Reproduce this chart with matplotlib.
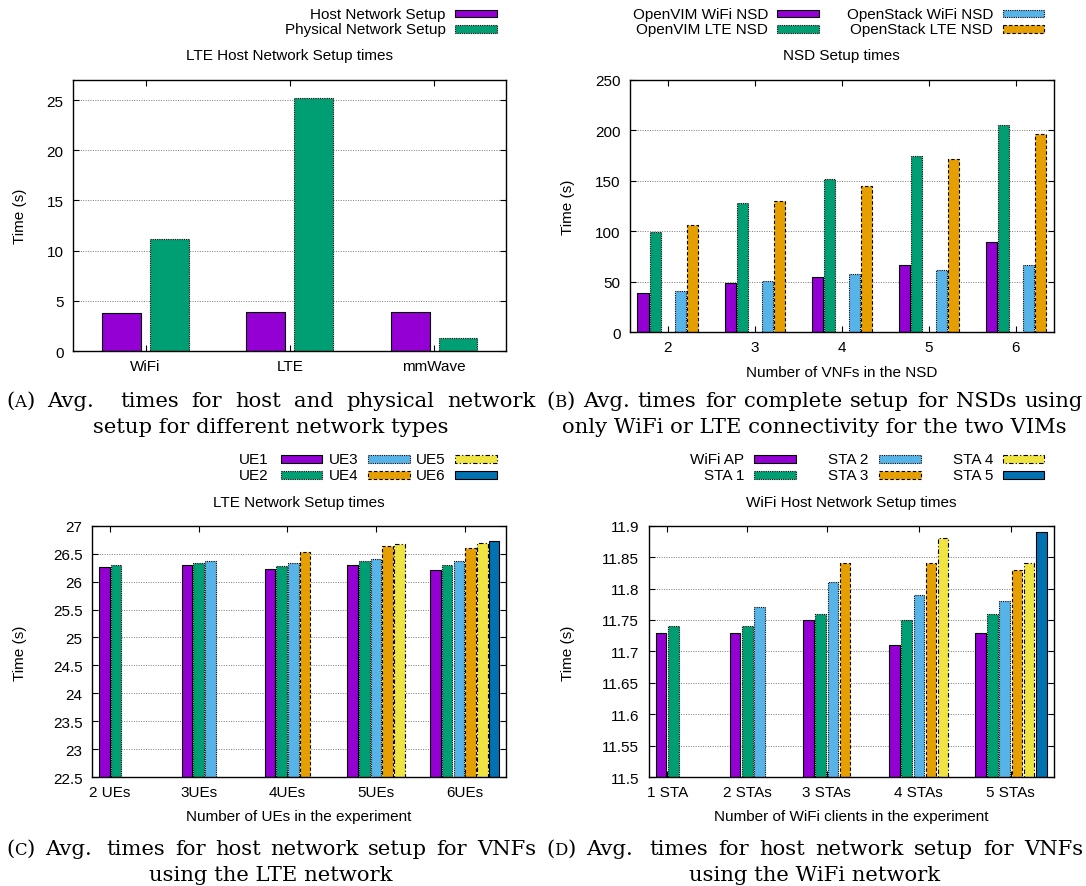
import matplotlib
matplotlib.use("Agg")
import matplotlib.pyplot as plt
from matplotlib.patches import Rectangle
import numpy as np

# ---------------------------------------------------------------- data
net_types = ["WiFi", "LTE", "mmWave"]
host_setup = [3.8, 3.85, 3.85]
phys_setup = [11.2, 25.2, 1.3]

vnf_counts = ["2", "3", "4", "5", "6"]
openvim_wifi = [39, 49, 55, 67, 89]
openvim_lte = [99, 128, 152, 175, 205]
openstack_wifi = [41, 51, 58, 62, 67]
openstack_lte = [106, 130, 145, 172, 196]

ue_groups = ["2 UEs", "3UEs", "4UEs", "5UEs", "6UEs"]
ue1 = [26.26, 26.29, 26.23, 26.29, 26.21]
ue2 = [26.29, 26.34, 26.28, 26.36, 26.30]
ue3 = [None, 26.36, 26.33, 26.41, 26.37]
ue4 = [None, None, 26.52, 26.63, 26.60]
ue5 = [None, None, None, 26.67, 26.68]
ue6 = [None, None, None, None, 26.72]
ue_labels = ["UE1", "UE2", "UE3", "UE4", "UE5", "UE6"]

sta_groups = ["1 STA", "2 STAs", "3 STAs", "4 STAs", "5 STAs"]
wifi_ap = [11.73, 11.73, 11.75, 11.71, 11.73]
sta1 = [11.74, 11.74, 11.76, 11.75, 11.76]
sta2 = [None, 11.77, 11.81, 11.79, 11.78]
sta3 = [None, None, 11.84, 11.84, 11.83]
sta4 = [None, None, None, 11.88, 11.84]
sta5 = [None, None, None, None, 11.89]
sta_labels = ["WiFi AP", "STA 1", "STA 2", "STA 3", "STA 4", "STA 5"]

# ---------------------------------------------------------------- style
W, H = 1086, 887
SANS = "Liberation Sans"
SERIF = "DejaVu Serif"
FS = 11
COLORS = ["#9400d3", "#009e73", "#56b4e9", "#e69f00", "#f0e442", "#0072b2"]
EDGE_LS = ["-", (0, (1, 1)), (0, (1, 1)), (0, (3, 2)), (0, (4, 2, 1, 2)), "-"]
EDGE_LW = 0.8

plt.rcParams["font.family"] = SANS

fig = plt.figure(figsize=(W / 100, H / 100), dpi=100)


def px_axes(x0, y0, x1, y1):
    return fig.add_axes([x0 / W, 1 - y1 / H, (x1 - x0) / W, (y1 - y0) / H])


def style_axes(ax):
    for s in ax.spines.values():
        s.set_linewidth(1.0)
    ax.tick_params(direction="in", top=True, right=True, length=4, width=0.8,
                   labelsize=FS)
    ax.tick_params(axis="y", pad=7)
    ax.tick_params(axis="x", pad=5.5)
    ax.yaxis.grid(True, linestyle=(0, (1, 1.5)), color="#7a7a7a", linewidth=0.7)
    ax.set_axisbelow(True)


def draw_bar(ax, x, value, width, k, base=0.0):
    ax.bar(x, value - base, width, bottom=base, color=COLORS[k],
           edgecolor="black", linewidth=EDGE_LW, linestyle=EDGE_LS[k], zorder=2)


# overlay in pixel units for legends, titles and captions
ov = fig.add_axes([0, 0, 1, 1], zorder=10)
ov.set_xlim(0, W)
ov.set_ylim(H, 0)
ov.axis("off")


def legend_entry(text_right, sample_x0, y, k, label):
    ov.text(text_right, y, label, ha="right", va="center", fontsize=FS, family=SANS)
    ov.add_patch(Rectangle((sample_x0, y - 3.8), 41.6, 7.6, facecolor=COLORS[k],
                           edgecolor="black", linewidth=EDGE_LW, linestyle=EDGE_LS[k]))


# ---------------------------------------------------------------- (A)
axA = px_axes(73.4, 81, 506.2, 352.1)
style_axes(axA)
xa = np.arange(len(net_types))
for i in range(len(net_types)):
    draw_bar(axA, xa[i] - 0.166, host_setup[i], 0.269, 0)
    draw_bar(axA, xa[i] + 0.166, phys_setup[i], 0.269, 1)
axA.set_xlim(-0.5, 2.5)
axA.set_ylim(0, 27)
axA.set_yticks(np.arange(0, 26, 5))
axA.set_xticks(xa)
axA.set_xticklabels(net_types)
ov.text(289.5, 56.4, "LTE Host Network Setup times", ha="center", va="center", fontsize=FS)
ov.text(19.7, 216, "Time (s)", rotation=90, ha="center", va="center", fontsize=FS)
legend_entry(445.6, 455.3, 14.5, 0, "Host Network Setup")
legend_entry(445.6, 455.3, 30.1, 1, "Physical Network Setup")

# ---------------------------------------------------------------- (B)
axB = px_axes(630.3, 81, 1054.1, 333.1)
style_axes(axB)
xb = np.array([int(v) for v in vnf_counts], dtype=float)
b_series = [openvim_wifi, openvim_lte, openstack_wifi, openstack_lte]
b_offsets = [-0.284, -0.143, 0.143, 0.284]
for k, (vals, off) in enumerate(zip(b_series, b_offsets)):
    for i, v in enumerate(vals):
        draw_bar(axB, xb[i] + off, v, 0.127, k)
axB.set_xlim(1.57, 6.44)
axB.set_ylim(0, 250)
axB.set_yticks(np.arange(0, 251, 50))
axB.set_xticks(xb)
axB.set_xticklabels(vnf_counts)
ov.text(841.5, 56.4, "NSD Setup times", ha="center", va="center", fontsize=FS)
ov.text(567.9, 207.8, "Time (s)", rotation=90, ha="center", va="center", fontsize=FS)
ov.text(841.5, 372.9, "Number of VNFs in the NSD", ha="center", va="center", fontsize=FS)
legend_entry(768.1, 777.4, 14.5, 0, "OpenVIM WiFi NSD")
legend_entry(768.1, 777.4, 30.1, 1, "OpenVIM LTE NSD")
legend_entry(993.1, 1002.8, 14.5, 2, "OpenStack WiFi NSD")
legend_entry(993.1, 1002.8, 30.1, 3, "OpenStack LTE NSD")


def grouped(ax, series, centers, pitch, width, base):
    for g, cx in enumerate(centers):
        present = [(k, s[g]) for k, s in enumerate(series) if s[g] is not None]
        n = len(present)
        for j, (k, v) in enumerate(present):
            draw_bar(ax, cx + (j - (n - 1) / 2) * pitch, v, width, k, base)


# ---------------------------------------------------------------- (C)
axC = px_axes(92.1, 526.6, 506.2, 778.3)
style_axes(axC)
xc = np.arange(len(ue_groups), dtype=float)
C_BASE = 22.5
grouped(axC, [ue1, ue2, ue3, ue4, ue5, ue6], xc, 0.132, 0.119, C_BASE)
axC.set_xlim(-0.203, 4.468)
axC.set_ylim(C_BASE, 27)
yt = np.arange(22.5, 27.01, 0.5)
axC.set_yticks(yt)
axC.set_yticklabels(["%g" % round(v, 2) for v in yt])
axC.set_xticks(xc)
axC.set_xticklabels(ue_groups)
ov.text(298.5, 503.4, "LTE Network Setup times", ha="center", va="center", fontsize=FS)
ov.text(19.7, 653, "Time (s)", rotation=90, ha="center", va="center", fontsize=FS)
ov.text(298.5, 817.4, "Number of UEs in the experiment", ha="center", va="center", fontsize=FS)
for k, lab in enumerate(ue_labels):
    col, row = divmod(k, 2)
    legend_entry([268.4, 358.4, 445.6][col], [280.5, 368.0, 455.3][col],
                 [460.1, 475.7][row], k, lab)

# ---------------------------------------------------------------- (D)
axD = px_axes(648.6, 526.6, 1054.1, 778.3)
style_axes(axD)
xd = np.array([0.0, 6.56, 13.08, 20.63, 28.18])
D_BASE = 11.5
grouped(axD, [wifi_ap, sta1, sta2, sta3, sta4, sta5], xd, 1.0, 0.86, D_BASE)
axD.set_xlim(-1.534, 31.73)
axD.set_ylim(D_BASE, 11.9)
yt = np.arange(11.5, 11.901, 0.05)
axD.set_yticks(yt)
axD.set_yticklabels(["%g" % round(v, 2) for v in yt])
axD.set_xticks(xd)
axD.set_xticklabels(sta_groups)
ov.text(851.2, 503.4, "WiFi Host Network Setup times", ha="center", va="center", fontsize=FS)
ov.text(567.9, 653, "Time (s)", rotation=90, ha="center", va="center", fontsize=FS)
ov.text(851.2, 817.4, "Number of WiFi clients in the experiment", ha="center", va="center", fontsize=FS)
for k, lab in enumerate(sta_labels):
    col, row = divmod(k, 2)
    legend_entry([744.5, 868.5, 993.1][col], [754.2, 878.9, 1002.8][col],
                 [460.0, 475.7][row], k, lab)

# ---------------------------------------------------------------- captions
CAP_FS = 15.2
renderer = fig.canvas.get_renderer()


def piece_width(text, size):
    t = ov.text(0, 0, text, fontsize=size, family=SERIF)
    w = t.get_window_extent(renderer).width
    t.remove()
    return w


def place_token(token, x, y):
    for text, scale in token:
        size = CAP_FS * scale
        ov.text(x, y, text, fontsize=size, family=SERIF, ha="left", va="baseline")
        x += piece_width(text, size)


def token_width(token):
    return sum(piece_width(t, CAP_FS * s) for t, s in token)


def justified(tokens, x0, x1, y, gap_weights):
    widths = [token_width(t) for t in tokens]
    min_gap = 0.6 * piece_width("a a", CAP_FS) - 0.6 * piece_width("aa", CAP_FS)
    free = (x1 - x0) - sum(widths)
    unit = max(free / sum(gap_weights), min_gap)
    x = x0
    for i, tok in enumerate(tokens):
        place_token(tok, x, y)
        x += widths[i]
        if i < len(gap_weights):
            x += unit * gap_weights[i]


def centered(text, cx, y):
    ov.text(cx, y, text, fontsize=CAP_FS, family=SERIF, ha="center", va="baseline")


def caption(letter, first_line, second_line, x0, x1, y, after_avg):
    words = first_line.split()
    tokens = [[("(", 1.0), (letter, 0.78), (")", 1.0)]] + [[(w, 1.0)] for w in words]
    gaps = [1.0] * (len(tokens) - 1)
    gaps[1] = after_avg
    justified(tokens, x0, x1, y, gaps)
    centered(second_line, (x0 + x1) / 2, y + 26)


caption("A", "Avg. times for host and physical network",
        "setup for different network types", 6, 536, 407, 2.0)
caption("B", "Avg. times for complete setup for NSDs using",
        "only WiFi or LTE connectivity for the two VIMs", 546, 1083, 407, 1.0)
caption("C", "Avg. times for host network setup for VNFs",
        "using the LTE network", 6, 536, 855, 1.6)
caption("D", "Avg. times for host network setup for VNFs",
        "using the WiFi network", 546, 1083, 855, 1.6)

fig.savefig("out.png", dpi=100)
